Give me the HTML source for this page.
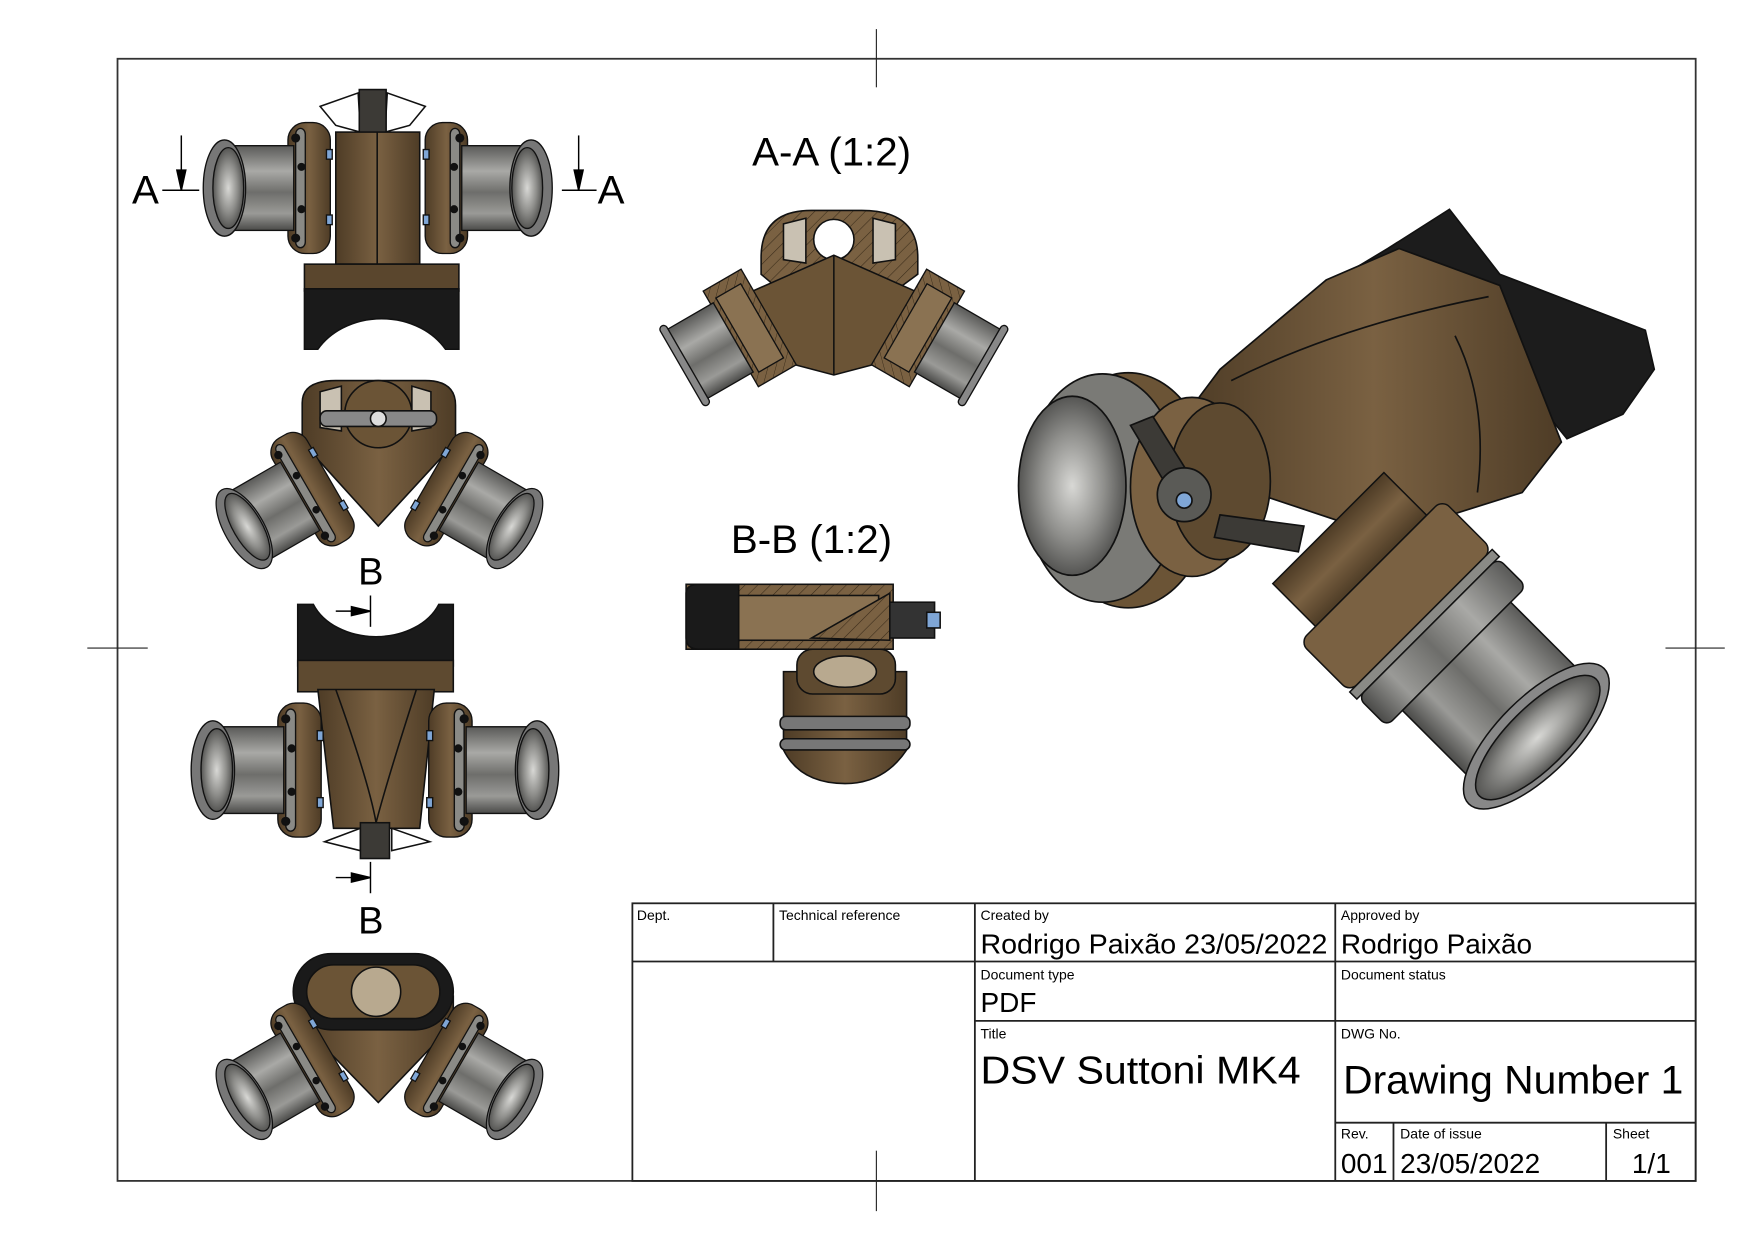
<!DOCTYPE html>
<html><head><meta charset="utf-8"><style>
html,body{margin:0;padding:0;background:#fff;}
svg{display:block;}
text{font-family:"Liberation Sans",Arial,sans-serif;fill:#000;}
</style></head><body>
<svg width="1755" height="1240" viewBox="0 0 1568 1107.8" preserveAspectRatio="none" xmlns="http://www.w3.org/2000/svg">
<defs>
<linearGradient id="gp" x1="0" y1="0" x2="0" y2="1">
<stop offset="0" stop-color="#5a5a58"/><stop offset="0.3" stop-color="#a9a9a6"/><stop offset="0.55" stop-color="#6e6e6b"/><stop offset="0.8" stop-color="#9a9a97"/><stop offset="1" stop-color="#4a4a48"/></linearGradient>
<linearGradient id="gb" x1="0" y1="0" x2="1" y2="0">
<stop offset="0" stop-color="#4e3c26"/><stop offset="0.5" stop-color="#7a6142"/><stop offset="1" stop-color="#4e3c26"/></linearGradient>
<radialGradient id="gr"><stop offset="0" stop-color="#d8d8d5"/><stop offset="0.6" stop-color="#8e8e8b"/><stop offset="1" stop-color="#555553"/></radialGradient>
<pattern id="hatch" width="8" height="8" patternUnits="userSpaceOnUse" patternTransform="rotate(45)">
<rect width="8" height="8" fill="#7a6142"/><line x1="0" y1="0" x2="0" y2="8" stroke="#3a2c1a" stroke-width="1"/></pattern>
<g id="pipe" stroke="#111" stroke-width="1.4">
<rect x="-52" y="-68" width="44" height="136" rx="18" fill="url(#gb)"/>
<rect x="-44" y="-62" width="10" height="124" rx="6" fill="#8a8a86"/>
<rect x="-112" y="-44" width="66" height="88" fill="url(#gp)"/>
<ellipse cx="-118" cy="0" rx="22" ry="50" fill="#777"/>
<ellipse cx="-114" cy="0" rx="16" ry="42" fill="url(#gr)"/>
<circle cx="-44" cy="-52" r="4" fill="#111"/><circle cx="-44" cy="52" r="4" fill="#111"/>
<circle cx="-38" cy="-22" r="3.5" fill="#111"/><circle cx="-38" cy="22" r="3.5" fill="#111"/>
<rect x="-12" y="-40" width="6" height="10" fill="#7fa6d6"/><rect x="-12" y="28" width="6" height="10" fill="#7fa6d6"/>
</g>
</defs>

<rect x="105" y="52.5" width="1410" height="1002.5" fill="none" stroke="#333" stroke-width="1.6"/>
<g stroke="#222" stroke-width="1">
<line x1="783" y1="26" x2="783" y2="78"/><line x1="783" y1="1028" x2="783" y2="1082"/>
<line x1="78" y1="579" x2="132" y2="579"/><line x1="1488" y1="579" x2="1541" y2="579"/>
</g>

<!-- View 1 -->
<g stroke="#111" stroke-width="1.4">
<path d="M286 95 L320 83 L322 118 L300 112 Z M380 95 L346 83 L344 118 L366 112 Z" fill="#fff"/>
<rect x="321" y="80" width="24" height="40" fill="#3c3a36"/>
<rect x="300" y="118" width="75" height="118" fill="url(#gb)"/>
<line x1="337" y1="118" x2="337" y2="236"/>
<path d="M302 236 L372 236 L380 268 L290 268 Z" fill="#5e4a30"/>
<rect x="272" y="236" width="138" height="24" fill="#5a462d"/>
<path d="M272 258 L410 258 L410 312 L398 312 A66 55 0 0 0 284 312 L272 312 Z" fill="#1a1a1a"/>
</g>
<use href="#pipe" transform="translate(302,168) scale(0.86)"/>
<use href="#pipe" transform="translate(373,168) scale(-0.86,0.86)"/>
<g stroke="#000" stroke-width="1.3" fill="#000">
<line x1="162" y1="121" x2="162" y2="170" /><path d="M158 152 L166 152 L162 170 Z"/>
<line x1="145" y1="170" x2="178" y2="170"/>
<line x1="517" y1="121" x2="517" y2="170"/><path d="M513 152 L521 152 L517 170 Z"/>
<line x1="502" y1="170" x2="533" y2="170"/>
</g>
<text x="118" y="182" font-size="36">A</text>
<text x="534" y="182" font-size="36">A</text>

<!-- View 2 -->
<g stroke="#111" stroke-width="1.4">
<path d="M270 360 Q270 340 300 340 L380 340 Q407 340 407 362 L407 395 L338 470 L270 395 Z" fill="url(#gb)"/>
<path d="M286 350 L305 345 L305 385 L286 382 Z M385 350 L368 345 L368 385 L385 382Z" fill="#c9c1b2"/>
<circle cx="338" cy="370" r="30" fill="#6b5436"/>
<rect x="286" y="367" width="104" height="14" rx="6" fill="#888"/>
<circle cx="338" cy="374" r="7" fill="#ddd"/>
</g>
<use href="#pipe" transform="translate(300,425) rotate(-30) scale(0.8)"/>
<use href="#pipe" transform="translate(378,425) scale(-1,1) rotate(-30) scale(0.8)"/>

<!-- View 3 -->
<g stroke="#111" stroke-width="1.4">
<path d="M266 540 L280 540 A60 45 0 0 0 392 540 L405 540 L405 595 L266 595 Z" fill="#1a1a1a"/>
<rect x="266" y="590" width="139" height="28" fill="#5e4a30"/>
<path d="M284 616 L388 616 L375 740 L298 740 Z" fill="url(#gb)"/>
<path d="M300 616 Q330 700 336 735 Q345 700 372 616" fill="none"/>
<path d="M290 752 L322 740 L322 760 Z M384 752 L350 740 L350 760 Z" fill="#fff"/>
<rect x="322" y="735" width="26" height="32" fill="#3c3a36"/>
</g>
<use href="#pipe" transform="translate(294,688) scale(0.88)"/>
<use href="#pipe" transform="translate(376,688) scale(-0.88,0.88)"/>
<g stroke="#000" stroke-width="1.3" fill="#000">
<line x1="331" y1="532" x2="331" y2="560"/><line x1="300" y1="546" x2="331" y2="546"/><path d="M314 542 L314 550 L331 546 Z"/>
<line x1="331" y1="770" x2="331" y2="798"/><line x1="300" y1="784" x2="331" y2="784"/><path d="M314 780 L314 788 L331 784 Z"/>
</g>
<text x="320" y="522" font-size="34">B</text>
<text x="320" y="834" font-size="34">B</text>

<!-- View 4 -->
<g stroke="#111" stroke-width="1.4">
<path d="M270 890 L405 890 L405 915 L338 985 L270 915 Z" fill="url(#gb)"/>
<rect x="262" y="852" width="143" height="68" rx="34" fill="#1a1a1a"/>
<rect x="274" y="862" width="119" height="48" rx="24" fill="#6b5436"/>
<circle cx="336" cy="886" r="22" fill="#b8a98f"/>
</g>
<use href="#pipe" transform="translate(300,935) rotate(-30) scale(0.8)"/>
<use href="#pipe" transform="translate(378,935) scale(-1,1) rotate(-30) scale(0.8)"/>

<!-- A-A section -->
<text x="672" y="148" font-size="36">A-A (1:2)</text>
<g stroke="#111" stroke-width="1.4">
<path d="M680 230 Q680 188 725 188 L770 188 Q820 188 820 230 L820 245 L745 300 L680 245 Z" fill="url(#hatch)"/>
<path d="M700 200 L720 195 L720 235 L700 232 Z M800 200 L780 195 L780 235 L800 232Z" fill="#c9c1b2"/>
<circle cx="745" cy="214" r="18" fill="#fff"/>
<path d="M650 270 L745 228 L840 270 L840 310 L745 335 L650 310 Z" fill="#6b5436"/>
<path d="M745 228 L745 335" fill="none"/>
</g>
<g transform="translate(675,290) rotate(-30) scale(0.85)" stroke="#111" stroke-width="1.4">
<rect x="-30" y="-58" width="46" height="116" fill="url(#hatch)"/>
<rect x="-22" y="-45" width="30" height="90" fill="#8a7252"/>
<rect x="-85" y="-42" width="58" height="84" fill="url(#gp)"/>
<rect x="-90" y="-48" width="8" height="96" rx="4" fill="#888"/>
</g>
<g transform="translate(815,290) scale(-1,1) rotate(-30) scale(0.85)" stroke="#111" stroke-width="1.4">
<rect x="-30" y="-58" width="46" height="116" fill="url(#hatch)"/>
<rect x="-22" y="-45" width="30" height="90" fill="#8a7252"/>
<rect x="-85" y="-42" width="58" height="84" fill="url(#gp)"/>
<rect x="-90" y="-48" width="8" height="96" rx="4" fill="#888"/>
</g>

<!-- B-B section -->
<text x="653" y="494" font-size="36">B-B (1:2)</text>
<g stroke="#111" stroke-width="1.4">
<path d="M700 600 L810 600 L810 670 Q790 700 755 700 Q715 700 700 670 Z" fill="url(#gb)"/>
<rect x="697" y="640" width="116" height="12" rx="5" fill="#777"/>
<rect x="697" y="660" width="116" height="10" rx="5" fill="#777"/>
<rect x="712" y="580" width="88" height="40" rx="14" fill="#5e4a30"/>
<ellipse cx="755" cy="600" rx="28" ry="14" fill="#b8a98f"/>
<rect x="613" y="522" width="185" height="58" fill="url(#hatch)"/>
<rect x="645" y="532" width="140" height="40" fill="#8a7252"/>
<path d="M613 530 Q613 522 625 522 L660 522 L660 580 L625 580 Q613 580 613 570 Z" fill="#1a1a1a"/>
<path d="M725 570 L795 530 L795 572 Z" fill="url(#hatch)"/>
<rect x="795" y="538" width="40" height="32" fill="#333"/>
<rect x="828" y="547" width="12" height="14" fill="#7fa6d6"/>
</g>

<!-- Isometric -->
<g stroke="#111" stroke-width="1.5">
<path d="M1185 255 L1240 222 L1295 187 L1340 245 L1470 295 L1478 330 L1450 370 L1400 392 L1350 330 Z" fill="#1c1c1c"/>
<path d="M1185 250 L1250 222 L1340 255 L1395 395 L1360 440 L1290 462 L1210 470 L1120 440 L1060 370 L1090 330 Z" fill="url(#gb)"/>
<path d="M1100 340 Q1200 290 1330 265" fill="none"/>
<path d="M1300 300 Q1330 360 1320 440" fill="none"/>
</g>
<g stroke="#111" stroke-width="1.5">
<ellipse cx="1008" cy="438" rx="75" ry="105" fill="#6b5436"/>
<ellipse cx="985" cy="436" rx="70" ry="102" fill="#7a7a76"/>
<ellipse cx="958" cy="434" rx="48" ry="80" fill="url(#gr)"/>
<ellipse cx="1065" cy="435" rx="55" ry="80" fill="#7a6142"/>
<ellipse cx="1090" cy="430" rx="45" ry="70" fill="#5e4a30"/>
<path d="M1010 380 L1030 372 L1060 420 L1040 430 Z M1090 460 L1165 470 L1160 493 L1085 480 Z" fill="#3c3a36"/>
<circle cx="1058" cy="442" r="24" fill="#5a5a56"/>
<circle cx="1058" cy="447" r="7" fill="#7fa6d6"/>
</g>
<g transform="translate(1225,510) rotate(45) scale(0.9)" stroke="#111" stroke-width="1.5">
<rect x="-60" y="-78" width="60" height="156" fill="url(#gb)"/>
<rect x="0" y="-100" width="70" height="200" rx="10" fill="#7a6142"/>
<rect x="70" y="-100" width="10" height="200" fill="#8a8a86"/>
<rect x="80" y="-98" width="40" height="196" rx="8" fill="url(#gp)"/>
<rect x="120" y="-76" width="110" height="152" fill="url(#gp)"/>
<ellipse cx="232" cy="0" rx="38" ry="95" fill="#888"/>
<ellipse cx="234" cy="0" rx="30" ry="82" fill="url(#gr)"/>
</g>

<!-- Title block -->
<g stroke="#222" stroke-width="1.6" fill="none">
<rect x="565" y="807" width="950" height="248"/>
<line x1="565" y1="859" x2="1515" y2="859"/>
<line x1="871" y1="912" x2="1515" y2="912"/>
<line x1="1193" y1="1003" x2="1515" y2="1003"/>
<line x1="691" y1="807" x2="691" y2="859"/>
<line x1="871" y1="807" x2="871" y2="1055"/>
<line x1="1193" y1="807" x2="1193" y2="1055"/>
<line x1="1245" y1="1003" x2="1245" y2="1055"/>
<line x1="1435" y1="1003" x2="1435" y2="1055"/>
</g>
<g font-size="12.5">
<text x="569" y="822">Dept.</text>
<text x="696" y="822">Technical reference</text>
<text x="876" y="822">Created by</text>
<text x="1198" y="822">Approved by</text>
<text x="876" y="875">Document type</text>
<text x="1198" y="875">Document status</text>
<text x="876" y="928">Title</text>
<text x="1198" y="928">DWG No.</text>
<text x="1198" y="1017">Rev.</text>
<text x="1251" y="1017">Date of issue</text>
<text x="1441" y="1017">Sheet</text>
</g>
<g font-size="25">
<text x="876" y="852" textLength="310" lengthAdjust="spacingAndGlyphs">Rodrigo Paixão 23/05/2022</text>
<text x="1198" y="852">Rodrigo Paixão</text>
<text x="876" y="904">PDF</text>
<text x="1198" y="1048">001</text>
<text x="1251" y="1048">23/05/2022</text>
<text x="1458" y="1048">1/1</text>
</g>
<text x="876" y="968" font-size="35" textLength="286" lengthAdjust="spacingAndGlyphs">DSV Suttoni MK4</text>
<text x="1200" y="977" font-size="36" textLength="304" lengthAdjust="spacingAndGlyphs">Drawing Number 1</text>
</svg>
</body></html>
